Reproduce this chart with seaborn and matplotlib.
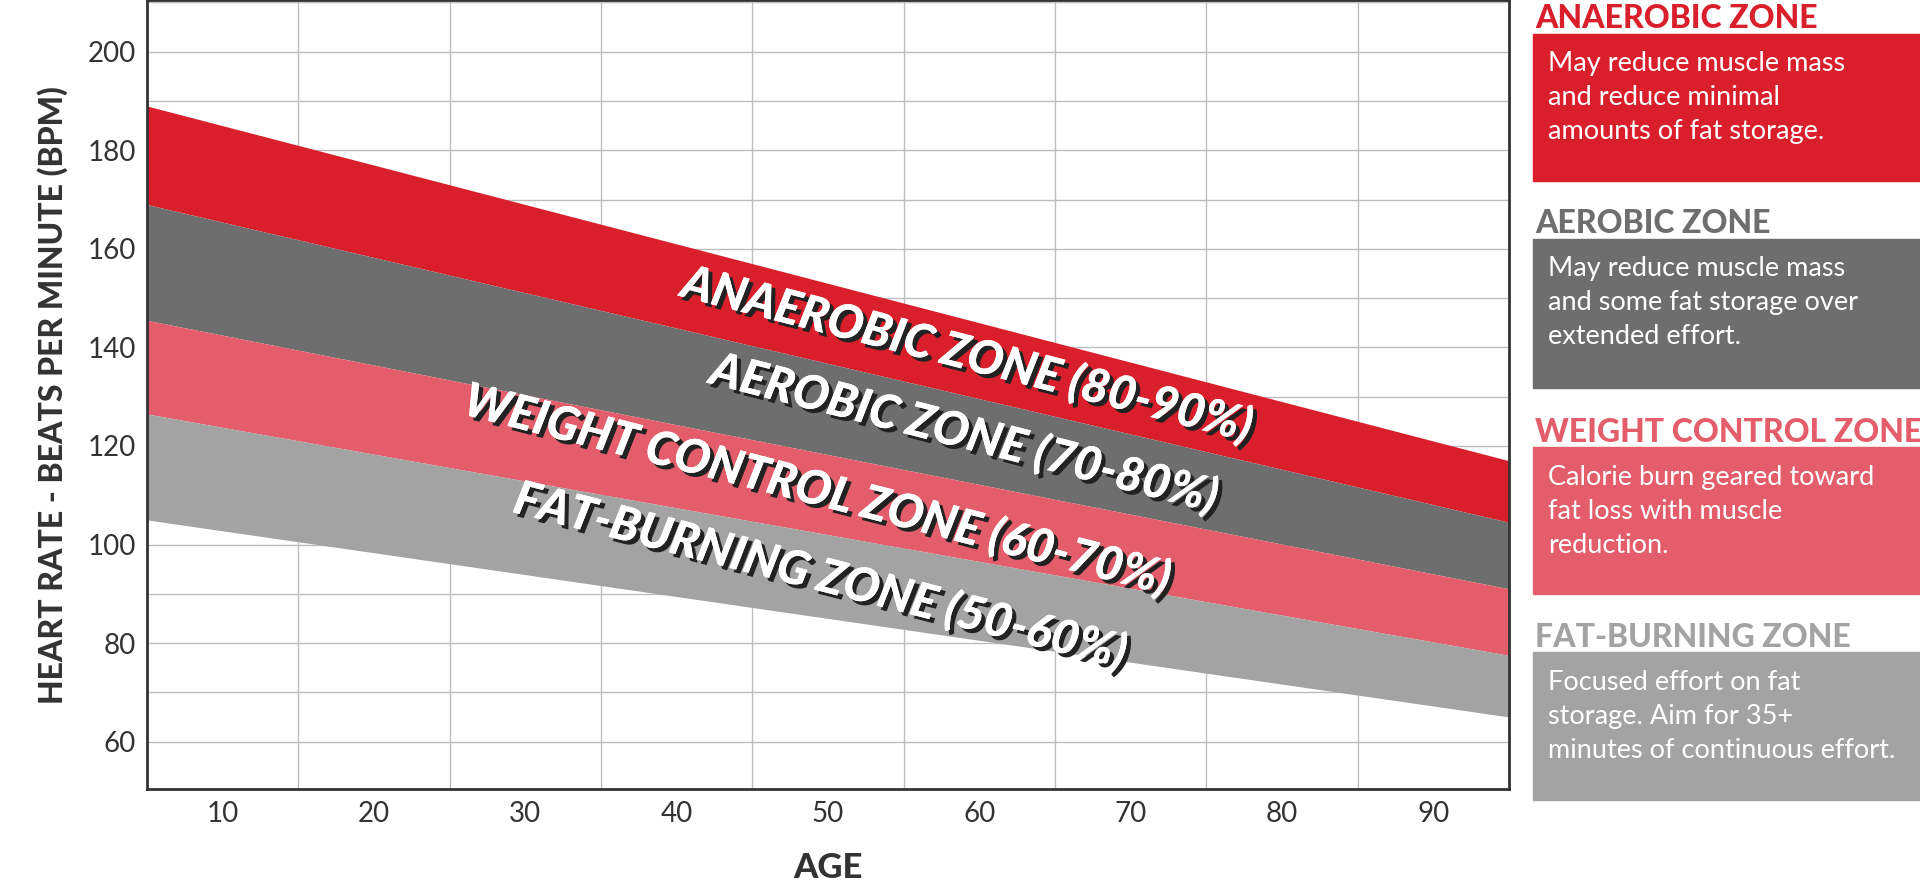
import matplotlib
matplotlib.use("Agg")
import matplotlib.pyplot as plt
import matplotlib.patheffects as pe
import seaborn as sns
import numpy as np
import pandas as pd

ages = [5, 95]
anaerobic_top = [189, 117]
aerobic_top = [169, 104.5]
weight_top = [145.5, 91]
fat_top = [126.5, 77.5]
fat_bottom = [105, 65]

zone_labels = ["ANAEROBIC ZONE (80-90%)", "AEROBIC ZONE (70-80%)",
               "WEIGHT CONTROL ZONE (60-70%)", "FAT-BURNING ZONE (50-60%)"]
label_x = [59.2, 59.0, 49.3, 49.5]
label_y = [138.5, 122.5, 111.0, 93.6]
colors = ["#d91f2b", "#6e6e6e", "#e35d6a", "#a3a3a3"]

panel_titles = ["ANAEROBIC ZONE", "AEROBIC ZONE", "WEIGHT CONTROL ZONE", "FAT-BURNING ZONE"]
panel_texts = ["May reduce muscle mass\nand reduce minimal\namounts of fat storage.",
               "May reduce muscle mass\nand some fat storage over\nextended effort.",
               "Calorie burn geared toward\nfat loss with muscle\nreduction.",
               "Focused effort on fat\nstorage. Aim for 35+\nminutes of continuous effort."]
title_colors = ["#d91f2b", "#6e6e6e", "#e35d6a", "#a3a3a3"]

sns.set_style("white")
plt.rcParams['font.family'] = ['Lato', 'DejaVu Sans']

fig = plt.figure(figsize=(19.2, 8.92), dpi=100)
ax = fig.add_axes([0.0765, 0.115, 0.7095, 0.885])

bounds = [anaerobic_top, aerobic_top, weight_top, fat_top, fat_bottom]
df = pd.DataFrame({"age": ages, "y": anaerobic_top})
sns.lineplot(data=df, x="age", y="y", ax=ax, color=colors[0], lw=0)
for i in range(4):
    ax.fill_between(ages, bounds[i + 1], bounds[i], color=colors[i], lw=0, zorder=2)

ax.set_xlim(5, 95)
ax.set_ylim(50.3, 210.5)
ax.set_xticks(range(10, 91, 10))
ax.set_xticks(range(15, 95, 10), minor=True)
ax.set_yticks(range(60, 201, 20))
ax.set_yticks(range(70, 211, 20), minor=True)
ax.grid(True, axis="y", which="both", color="#bdbdbd", lw=1, zorder=0)
ax.grid(True, axis="x", which="minor", color="#bdbdbd", lw=1, zorder=0)
ax.set_axisbelow(True)
ax.tick_params(axis="both", which="major", labelsize=20, length=0, colors="#333333", pad=8)
ax.tick_params(which="minor", length=0)
for s in ax.spines.values():
    s.set_color("#333333")
    s.set_linewidth(2)
ax.set_xlabel("AGE", fontsize=25, fontweight="black", color="#333333", labelpad=18)
ax.set_ylabel("HEART RATE - BEATS PER MINUTE (BPM)", fontsize=23, fontweight="black",
              color="#333333", labelpad=14)

for lab, x, y in zip(zone_labels, label_x, label_y):
    ax.text(x, y, lab, rotation=-14.4, rotation_mode="anchor", ha="center", va="center",
            fontsize=34, fontweight="black", fontstyle="italic", color="white", zorder=5,
            path_effects=[pe.withSimplePatchShadow(offset=(3, -3), shadow_rgbFace="#222222", alpha=1),
                          pe.Normal()])

tops = [27, 192, 360, 525]
bottoms = [146, 312, 478, 644]
H = 718.0
for t, tc, txt, yt, yb, c in zip(panel_titles, title_colors, panel_texts, tops, bottoms, colors):
    y0 = 1 - yb / H
    h = (yb - yt) / H
    fig.patches.append(plt.Rectangle((0.7985, y0), 0.2015, h, transform=fig.transFigure,
                                     color=c, zorder=1))
    fig.text(0.7995, 1 - (yt - 12) / H, t, fontsize=23, fontweight="black", color=tc,
             va="center", ha="left")
    fig.text(0.8065, 1 - (yt + 14) / H, txt, fontsize=19.5, color="white", va="top",
             ha="left", linespacing=1.45)

fig.savefig("out.png", dpi=100)
